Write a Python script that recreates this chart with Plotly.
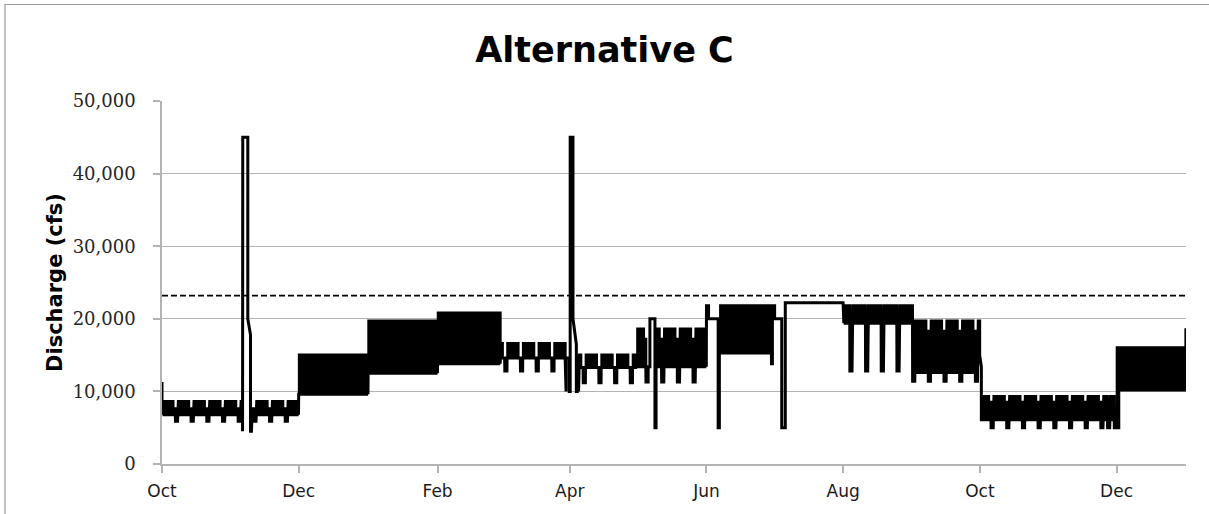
import plotly.graph_objects as go
from datetime import datetime, timedelta

# ---------------- data ----------------
# Daily operation blocks (cfs): weekday low/high, weekend high (Saturday peak)
# and weekend low (Sunday base flow)
seg_start = ["2001-10-01", "2001-11-10", "2001-12-01", "2002-01-01", "2002-02-01",
             "2002-03-01", "2002-04-05", "2002-05-01", "2002-05-10", "2002-06-07",
             "2002-08-01", "2002-09-01", "2002-10-02", "2002-12-02"]
seg_end = ["2001-11-06", "2001-12-01", "2002-01-01", "2002-02-01", "2002-03-01",
           "2002-03-30", "2002-05-01", "2002-05-06", "2002-06-01", "2002-06-30",
           "2002-09-01", "2002-09-30", "2002-12-01", "2003-01-01"]
wk_low = [6800, 6800, 9600, 12500, 13800, 14600, 13300, 13400, 13400, 15300, 19400, 12600, 6100, 10200]
wk_high = [8600, 8600, 15000, 19700, 20800, 16600, 15000, 18600, 18600, 21800, 21800, 19700, 9300, 16000]
we_low = [5900, 5900, 9600, 12500, 13800, 12800, 11200, 11300, 11300, 15300, 12800, 11400, 5000, 10200]
we_high = [7600, 7600, 15000, 19700, 20800, 14600, 13300, 17200, 17200, 21800, 21800, 18300, 8500, 16000]
low_days = ["2002-11-27", "2002-11-30"]

# Special (non-daily) flow events, chronological
event_time = [
    "2001-10-01 00:00",
    "2001-11-05 23:00", "2001-11-06 01:00", "2001-11-06 01:00", "2001-11-08 07:00",
    "2001-11-08 07:00", "2001-11-09 12:00", "2001-11-09 12:00", "2001-11-09 22:00",
    "2002-03-30 00:00", "2002-03-30 08:00", "2002-03-30 08:00", "2002-03-31 18:00",
    "2002-03-31 18:00", "2002-04-01 04:00", "2002-04-01 04:00", "2002-04-02 10:00",
    "2002-04-02 10:00", "2002-04-03 22:00", "2002-04-03 22:00", "2002-04-04 08:00",
    "2002-04-04 08:00", "2002-04-04 22:00", "2002-04-04 22:00",
    "2002-05-06 00:00", "2002-05-06 18:00", "2002-05-06 18:00", "2002-05-09 00:00",
    "2002-05-09 00:00", "2002-05-09 12:00", "2002-05-09 12:00",
    "2002-06-01 00:00", "2002-06-01 00:00", "2002-06-01 22:00", "2002-06-01 22:00",
    "2002-06-06 05:00", "2002-06-06 05:00", "2002-06-06 18:00", "2002-06-06 18:00",
    "2002-06-30 00:00", "2002-06-30 10:00", "2002-06-30 10:00", "2002-07-01 10:00",
    "2002-07-01 10:00", "2002-07-04 14:00", "2002-07-04 14:00", "2002-07-06 04:00",
    "2002-07-06 04:00", "2002-07-31 23:00",
    "2002-09-30 00:00", "2002-09-30 07:00", "2002-09-30 07:00", "2002-09-30 22:00",
    "2002-09-30 22:00", "2002-10-01 16:00", "2002-10-01 16:00",
    "2002-12-01 00:00", "2002-12-01 07:00", "2002-12-01 07:00", "2002-12-01 22:00",
    "2002-12-01 22:00", "2002-12-02 00:00",
    "2002-12-31 23:00",
]
event_flow = [
    11300,
    4500, 4500, 45000, 45000,
    20000, 17800, 4500, 4500,
    10000, 10000, 14600, 14600,
    10000, 10000, 45000, 45000,
    20000, 16500, 10000, 10000,
    14600, 14600, 10000,
    13400, 13400, 20000, 20000,
    5000, 5000, 13400,
    13400, 21800, 21800, 20000,
    20000, 5000, 5000, 15300,
    13800, 13800, 21800, 21800,
    20000, 20000, 5000, 5000,
    22200, 22200,
    12600, 12600, 19700, 19700,
    15000, 13400, 6100,
    5000, 5000, 16000, 16000,
    5000, 5000,
    18700,
]

threshold = 23200  # dashed reference line (cfs)

tick_dates = ["2001-10-01", "2001-12-01", "2002-02-01", "2002-04-01",
              "2002-06-01", "2002-08-01", "2002-10-01", "2002-12-01"]
tick_text = ["Oct", "Dec", "Feb", "Apr", "Jun", "Aug", "Oct", "Dec"]

# ---------------- build the hourly-operation series ----------------
events = [(datetime.fromisoformat(t), q) for t, q in zip(event_time, event_flow)]
xs, ys = [], []


def add(t, q):
    xs.append(t)
    ys.append(q)


ev_i = 0
for i in range(len(seg_start)):
    s = datetime.fromisoformat(seg_start[i])
    e = datetime.fromisoformat(seg_end[i])
    while ev_i < len(events) and events[ev_i][0] <= s:
        add(*events[ev_i]); ev_i += 1
    weekly = not (we_low[i] == wk_low[i] and we_high[i] == wk_high[i])
    d = s
    while d < e:
        wd = d.weekday()
        sunday = wd == 6 or d.strftime("%Y-%m-%d") in low_days
        if weekly and sunday:
            add(d, we_low[i]); add(d + timedelta(hours=23), we_low[i])
        else:
            hi = we_high[i] if (weekly and wd == 5) else wk_high[i]
            lo = wk_low[i]
            for hh, q in ((0, lo), (7, lo), (7, hi), (22, hi), (22, lo)):
                add(d + timedelta(hours=hh), q)
        d += timedelta(days=1)
while ev_i < len(events):
    add(*events[ev_i]); ev_i += 1

# ---------------- figure ----------------
fig = go.Figure()
fig.add_trace(go.Scatter(x=xs, y=ys, mode="lines",
                         line=dict(color="black", width=3), showlegend=False,
                         hoverinfo="skip"))
fig.add_trace(go.Scatter(x=[datetime(2001, 10, 1), datetime(2003, 1, 1)],
                         y=[threshold, threshold], mode="lines",
                         line=dict(color="black", width=1.8, dash="6px,3px"),
                         showlegend=False, hoverinfo="skip"))

grid = "#b3b3b3"
fig.update_layout(
    width=1209, height=514,
    margin=dict(l=162, r=23, t=101, b=50),
    paper_bgcolor="white", plot_bgcolor="white",
    title=dict(text="<b>Alternative C</b>", x=0.5, xref="container", xanchor="center",
               y=1 - 50 / 514, yref="container", yanchor="middle",
               font=dict(family="DejaVu Sans", size=35, color="black")),
    xaxis=dict(type="date", range=["2001-10-01", "2003-01-01"],
               tickvals=[datetime.fromisoformat(t) for t in tick_dates], ticktext=tick_text,
               showgrid=False, showline=True, linecolor=grid, linewidth=1.5,
               ticks="outside", ticklen=7, tickcolor=grid, tickwidth=1.5,
               ticklabelstandoff=4,
               tickfont=dict(family="DejaVu Sans", size=17, color="#1a1a1a"),
               zeroline=False),
    yaxis=dict(range=[0, 50000], dtick=10000, tickformat=",",
               showgrid=True, gridcolor=grid, gridwidth=1.2,
               showline=True, linecolor=grid, linewidth=1.5,
               ticks="outside", ticklen=7, tickcolor=grid, tickwidth=1.5,
               ticklabelstandoff=14,
               tickfont=dict(family="DejaVu Serif", size=18, color="#262626"),
               zeroline=False,
               title=dict(text="<b>Discharge (cfs)</b>", standoff=4,
                          font=dict(family="DejaVu Sans", size=21, color="black"))),
    shapes=[dict(type="rect", xref="paper", yref="paper",
                 x0=(5 - 162) / 1024, x1=(1215 - 162) / 1024,
                 y0=(464 - 520) / 363, y1=(464 - 4.5) / 363,
                 line=dict(color="#9a9a9a", width=1.2), fillcolor="rgba(0,0,0,0)",
                 layer="below")],
)

fig.write_html("out.html", config={"displayModeBar": False},
               post_script="document.body.style.margin='0';")
